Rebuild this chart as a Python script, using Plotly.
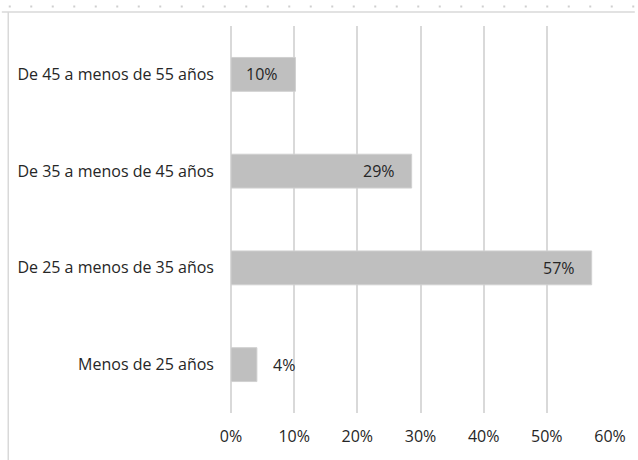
import plotly.graph_objects as go

categories = ["Menos de 25 años", "De 25 a menos de 35 años",
              "De 35 a menos de 45 años", "De 45 a menos de 55 años"]
values = [0.041, 0.571, 0.286, 0.102]
labels = ["4%", "57%", "29%", "10%"]
tick_vals = [0, 0.1, 0.2, 0.3, 0.4, 0.5, 0.6]
tick_text = ["0%", "10%", "20%", "30%", "40%", "50%", "60%"]

FONT = "Open Sans"
FS = 16
TXT = "#262626"
GRID = "#d9d9d9"

fig = go.Figure()
fig.add_trace(go.Bar(
    x=values, y=categories, orientation="h",
    marker=dict(color="#bfbfbf", line=dict(color="#d0d0d0", width=1)),
    width=0.35, hoverinfo="skip",
))

for v, c, t in zip(values, categories, labels):
    inside = v > 0.07
    fig.add_annotation(
        x=v, y=c, text=t, showarrow=False,
        xanchor="right" if inside else "left",
        xshift=-15 if inside else 14,
        font=dict(family=FONT, size=FS, color=TXT),
    )

fig.update_xaxes(
    range=[0, 0.6], tickvals=tick_vals, ticktext=tick_text,
    showgrid=True, gridcolor=GRID, gridwidth=1.5,
    zeroline=True, zerolinecolor=GRID, zerolinewidth=1.5,
    showline=False, ticks="", ticklabelstandoff=12,
    tickfont=dict(family=FONT, size=FS, color=TXT),
)
fig.update_yaxes(
    categoryorder="array", categoryarray=categories,
    range=[-0.5, 3.5], showgrid=False, zeroline=False, showline=False,
    ticks="", ticklabelstandoff=16,
    tickfont=dict(family=FONT, size=FS, color=TXT),
)

# chart frame (light border top and left) and dotted guide line
fig.add_shape(type="line", xref="paper", yref="paper",
              x0=-231/382, x1=(638-231)/382, y0=(413-11)/388, y1=(413-11)/388,
              line=dict(color="#d9d9d9", width=1.5))
fig.add_shape(type="line", xref="paper", yref="paper",
              x0=-(231-6.5)/382, x1=-(231-6.5)/382, y0=(413-11)/388, y1=(413-460)/388,
              line=dict(color="#d9d9d9", width=1.5))
fig.add_shape(type="line", xref="paper", yref="paper",
              x0=-(231-7)/382, x1=(638-231)/382, y0=(413-5.5)/388, y1=(413-5.5)/388,
              line=dict(color="#cfcfcf", width=2, dash="2px,19.5px"))

fig.update_layout(
    width=638, height=460,
    margin=dict(l=231, r=25, t=26, b=47),
    plot_bgcolor="white", paper_bgcolor="white",
    showlegend=False, bargap=0.65,
    font=dict(family=FONT, size=FS, color=TXT),
)

fig.write_html("out.html")
